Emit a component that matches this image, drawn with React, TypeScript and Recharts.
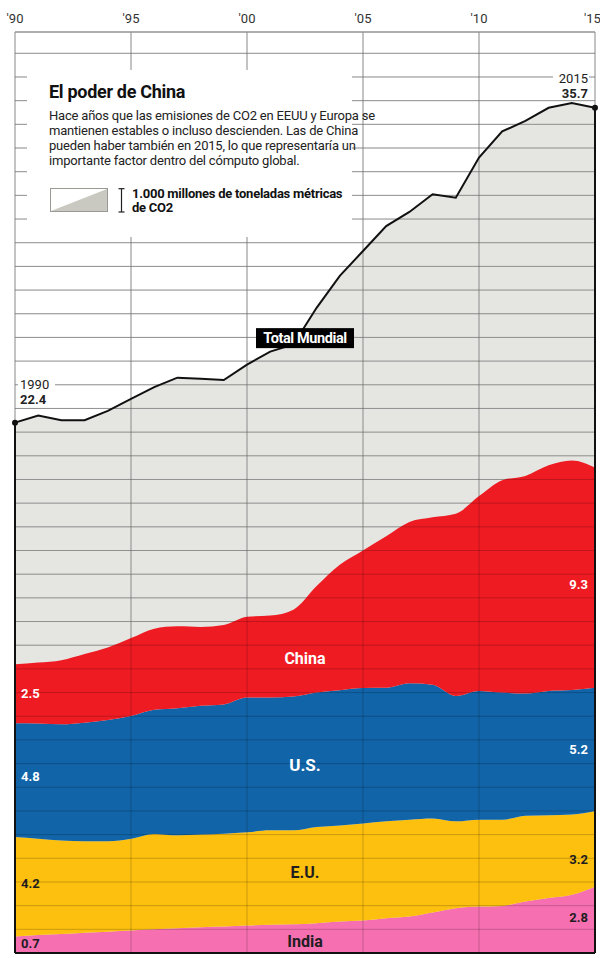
import React from 'react';
import { AreaChart, Area, XAxis, YAxis, CartesianGrid, ReferenceLine, ReferenceDot } from 'recharts';

// CO2 emissions, thousand million tonnes
const years = [1990, 1991, 1992, 1993, 1994, 1995, 1996, 1997, 1998, 1999, 2000, 2001, 2002, 2003, 2004, 2005, 2006, 2007, 2008, 2009, 2010, 2011, 2012, 2013, 2014, 2015];
const total = [22.4, 22.7, 22.5, 22.5, 22.9, 23.4, 23.9, 24.3, 24.25, 24.2, 24.85, 25.4, 25.7, 27.25, 28.6, 29.65, 30.7, 31.3, 32.05, 31.9, 33.6, 34.7, 35.15, 35.7, 35.9, 35.7];
const china = [2.5, 2.58, 2.71, 2.9, 3.06, 3.29, 3.43, 3.46, 3.33, 3.35, 3.41, 3.46, 3.67, 4.5, 5.3, 5.81, 6.4, 6.81, 7.07, 7.69, 8.23, 8.97, 9.19, 9.53, 9.69, 9.3];
const us = [4.8, 4.86, 4.91, 5.01, 5.12, 5.18, 5.24, 5.37, 5.44, 5.46, 5.69, 5.61, 5.65, 5.68, 5.71, 5.72, 5.64, 5.76, 5.65, 5.3, 5.44, 5.37, 5.16, 5.25, 5.26, 5.2];
const eu = [4.2, 4.07, 3.95, 3.86, 3.82, 3.88, 4.03, 3.92, 3.91, 3.92, 3.94, 3.99, 3.97, 4.06, 4.06, 4.1, 4.09, 4.09, 3.97, 3.67, 3.67, 3.64, 3.63, 3.5, 3.39, 3.2];
const india = [0.7, 0.76, 0.8, 0.86, 0.9, 0.95, 1.0, 1.05, 1.09, 1.12, 1.16, 1.19, 1.21, 1.26, 1.33, 1.37, 1.47, 1.54, 1.71, 1.89, 1.96, 1.99, 2.17, 2.32, 2.46, 2.8];

const xTicks = [1990, 1995, 2000, 2005, 2010, 2015];
const yTicks = [0, 1, 2, 3, 4, 5, 6, 7, 8, 9, 10, 11, 12, 13, 14, 15, 16, 17, 18, 19, 20, 21, 22, 23, 24, 25, 26, 27, 28, 29, 30, 31, 32, 33, 34, 35, 36, 37, 38];
const yMax = 38.9;

const bodyLines = [
  'Hace años que las emisiones de CO2 en EEUU y Europa se',
  'mantienen estables o incluso descienden. Las de China',
  'pueden haber también en 2015, lo que representaría un',
  'importante factor dentro del cómputo global.',
];

const data = years.map((year, i) => ({
  year,
  total: total[i],
  china: china[i],
  us: us[i],
  eu: eu[i],
  india: india[i],
}));

const FONT = 'Roboto, "Noto Sans", sans-serif';
const GRAY = '#e5e5e1';
const RED = '#ef1b23';
const BLUE = '#1164a8';
const YELLOW = '#fdc00f';
const PINK = '#f66fb1';
const INK = '#211d1e';

const first = 0;
const last = years.length - 1;

function Txt(props: any) {
  const { cx, cy, text, fill, anchor = 'middle', dx = 0, dy = 0, size = 13 } = props;
  return (
    <text
      x={cx + dx}
      y={cy + dy}
      dy="0.36em"
      textAnchor={anchor}
      fill={fill}
      fontFamily={FONT}
      fontWeight={700}
      fontSize={size}
    >
      {text}
    </text>
  );
}

function TagBox(props: any) {
  const { cx, cy } = props;
  return (
    <g>
      <rect x={cx - 49} y={cy - 10} width={98} height={20} fill="#000" />
      <text x={cx} y={cy} dy="0.36em" textAnchor="middle" fill="#fff" fontFamily={FONT} fontWeight={700} fontSize={14.5} letterSpacing={-0.4}>
        Total Mundial
      </text>
    </g>
  );
}

// band midpoints at each end of the chart
const bandMids = (i: number) => {
  const stack = [india[i], eu[i], us[i], china[i]];
  const mids: number[] = [];
  let acc = 0;
  stack.forEach((v) => {
    mids.push(acc + v / 2);
    acc += v;
  });
  return mids;
};
const midsStart = bandMids(first);
const midsEnd = bandMids(last);

export default function App() {
  return (
    <div style={{ position: 'absolute', left: 0, top: 0, width: 600, height: 958, background: '#fff', fontFamily: FONT }}>
      <AreaChart width={600} height={958} data={data} margin={{ top: 2, right: 5, bottom: 5, left: 15 }}>
        <XAxis
          dataKey="year"
          type="number"
          domain={[1990, 2015]}
          ticks={xTicks}
          orientation="top"
          height={30}
          axisLine={false}
          tickLine={false}
          tickSize={0}
          tickMargin={9}
          tickFormatter={(y: number) => `'${String(y).slice(2)}`}
          tick={{ fontSize: 13, fill: '#333', fontFamily: FONT }}
        />
        <YAxis type="number" domain={[0, yMax]} ticks={yTicks} hide />

        <Area type="linear" dataKey="total" fill={GRAY} fillOpacity={1} stroke="none" isAnimationActive={false} zIndex={100} />
        <CartesianGrid stroke="#b4b4b4" strokeWidth={1} zIndex={110} />

        <Area type="monotone" dataKey="india" stackId="s" fill={PINK} fillOpacity={1} stroke="none" isAnimationActive={false} zIndex={120} />
        <Area type="monotone" dataKey="eu" stackId="s" fill={YELLOW} fillOpacity={1} stroke="none" isAnimationActive={false} zIndex={120} />
        <Area type="monotone" dataKey="us" stackId="s" fill={BLUE} fillOpacity={1} stroke="none" isAnimationActive={false} zIndex={120} />
        <Area type="monotone" dataKey="china" stackId="s" fill={RED} fillOpacity={1} stroke="none" isAnimationActive={false} zIndex={120} />

        <CartesianGrid stroke="#000" strokeOpacity={0.2} strokeWidth={1} zIndex={130} />

        <Area type="linear" dataKey="total" fill="none" stroke="#111" strokeWidth={2} isAnimationActive={false} zIndex={140} />

        <ReferenceLine y={yMax} stroke="#9a9a9a" zIndex={150} />
        <ReferenceLine y={0} stroke="#111" strokeWidth={2} zIndex={150} />
        <ReferenceLine segment={[{ x: 1990, y: 0 }, { x: 1990, y: total[first] }]} stroke="#111" strokeWidth={2} zIndex={150} />
        <ReferenceLine segment={[{ x: 2015, y: 0 }, { x: 2015, y: total[last] }]} stroke="#111" strokeWidth={2} zIndex={150} />
        <ReferenceDot x={1990} y={total[first]} r={3} fill="#111" stroke="none" zIndex={160} />
        <ReferenceDot x={2015} y={total[last]} r={3} fill="#111" stroke="none" zIndex={160} />

        <ReferenceDot x={2002.5} y={25.97} r={0} zIndex={170} shape={(p: any) => <TagBox cx={p.cx} cy={p.cy} />} />

        <ReferenceDot x={2002.5} y={12.46} r={0} zIndex={170} shape={(p: any) => <Txt cx={p.cx} cy={p.cy} text="China" fill="#fff" size={16} />} />
        <ReferenceDot x={2002.5} y={7.94} r={0} zIndex={170} shape={(p: any) => <Txt cx={p.cx} cy={p.cy} text="U.S." fill="#fff" size={17} />} />
        <ReferenceDot x={2002.5} y={3.42} r={0} zIndex={170} shape={(p: any) => <Txt cx={p.cx} cy={p.cy} text="E.U." fill={INK} size={16} />} />
        <ReferenceDot x={2002.5} y={0.51} r={0} zIndex={170} shape={(p: any) => <Txt cx={p.cx} cy={p.cy} text="India" fill={INK} size={16} />} />

        <ReferenceDot x={1990} y={midsStart[3]} r={0} zIndex={170} shape={(p: any) => <Txt cx={p.cx} cy={p.cy} dx={6} text={china[first].toFixed(1)} fill="#fff" anchor="start" />} />
        <ReferenceDot x={1990} y={midsStart[2]} r={0} zIndex={170} shape={(p: any) => <Txt cx={p.cx} cy={p.cy} dx={6} dy={-4} text={us[first].toFixed(1)} fill="#fff" anchor="start" />} />
        <ReferenceDot x={1990} y={midsStart[1]} r={0} zIndex={170} shape={(p: any) => <Txt cx={p.cx} cy={p.cy} dx={6} dy={-3} text={eu[first].toFixed(1)} fill={INK} anchor="start" />} />
        <ReferenceDot x={1990} y={midsStart[0]} r={0} zIndex={170} shape={(p: any) => <Txt cx={p.cx} cy={p.cy} dx={6} dy={-1} text={india[first].toFixed(1)} fill={INK} anchor="start" />} />

        <ReferenceDot x={2015} y={midsEnd[3]} r={0} zIndex={170} shape={(p: any) => <Txt cx={p.cx} cy={p.cy} dx={-7} dy={7} text={china[last].toFixed(1)} fill="#fff" anchor="end" />} />
        <ReferenceDot x={2015} y={midsEnd[2]} r={0} zIndex={170} shape={(p: any) => <Txt cx={p.cx} cy={p.cy} dx={-7} text={us[last].toFixed(1)} fill="#fff" anchor="end" />} />
        <ReferenceDot x={2015} y={midsEnd[1]} r={0} zIndex={170} shape={(p: any) => <Txt cx={p.cx} cy={p.cy} dx={-7} dy={10} text={eu[last].toFixed(1)} fill={INK} anchor="end" />} />
        <ReferenceDot x={2015} y={midsEnd[0]} r={0} zIndex={170} shape={(p: any) => <Txt cx={p.cx} cy={p.cy} dx={-7} dy={-3} text={india[last].toFixed(1)} fill={INK} anchor="end" />} />
      </AreaChart>

      {/* intro box */}
      <div style={{ position: 'absolute', left: 27, top: 70, width: 325, height: 167, background: '#fff' }} />
      <div style={{ position: 'absolute', left: 49, top: 82, fontSize: 18, lineHeight: '20px', fontWeight: 700, letterSpacing: -0.3, color: '#111', whiteSpace: 'nowrap' }}>
        El poder de China
      </div>
      <div style={{ position: 'absolute', left: 49, top: 108, fontSize: 13, lineHeight: '15px', letterSpacing: -0.2, color: '#222', whiteSpace: 'nowrap' }}>
        {bodyLines.map((l) => (
          <div key={l}>{l}</div>
        ))}
      </div>
      <svg style={{ position: 'absolute', left: 50, top: 188 }} width={58} height={24}>
        <rect x={0.5} y={0.5} width={57} height={23} fill="#fff" stroke="#9a9a94" />
        <polygon points="1,23 57,1 57,23" fill="#c9c9c1" />
      </svg>
      <svg style={{ position: 'absolute', left: 117, top: 188 }} width={9} height={25}>
        <line x1={4.5} y1={0.5} x2={4.5} y2={24} stroke="#222" strokeWidth={1.2} />
        <line x1={1.5} y1={0.7} x2={7.5} y2={0.7} stroke="#222" strokeWidth={1.2} />
        <line x1={1.5} y1={24} x2={7.5} y2={24} stroke="#222" strokeWidth={1.2} />
      </svg>
      <div style={{ position: 'absolute', left: 132, top: 186.5, fontSize: 13, lineHeight: '14px', fontWeight: 700, letterSpacing: -0.25, color: '#111', whiteSpace: 'nowrap' }}>
        <div>1.000 millones de toneladas métricas</div>
        <div>de CO2</div>
      </div>

      {/* end labels */}
      <div style={{ position: 'absolute', left: 18, top: 377, padding: '0 6px 0 2px', background: '#fff', fontSize: 13, lineHeight: '15px', color: '#222' }}>
        <div>1990</div>
        <div style={{ fontWeight: 700 }}>{total[first].toFixed(1)}</div>
      </div>
      <div style={{ position: 'absolute', right: 11, top: 71, height: 28, padding: '0 1px 0 6px', background: '#fff', fontSize: 13, lineHeight: '15px', color: '#222', textAlign: 'right' }}>
        <div>2015</div>
        <div style={{ fontWeight: 700 }}>{total[last].toFixed(1)}</div>
      </div>
    </div>
  );
}
